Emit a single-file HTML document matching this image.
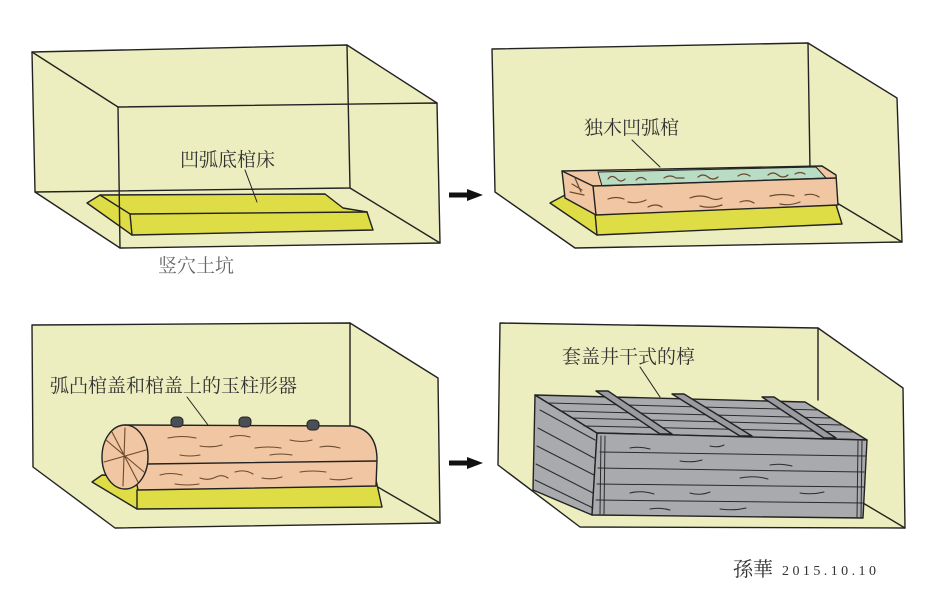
<!DOCTYPE html>
<html><head><meta charset="utf-8"><style>
html,body{margin:0;padding:0;background:#fff;}
svg{display:block;}
text{font-family:"Liberation Serif","Noto Serif CJK SC","Noto Sans CJK SC",serif;}
</style></head><body>
<svg width="925" height="605" viewBox="0 0 925 605" xmlns="http://www.w3.org/2000/svg">
<rect width="925" height="605" fill="#fff"/>
<g stroke="#222" stroke-width="1.4" stroke-linejoin="round" stroke-linecap="round">

<!-- Panel 1 -->
<polygon points="32,52 347,45 437,103 440,243 120,248 35,192" fill="#eceebf" stroke="none"/>
<polygon points="87,203 100,195 325,194 343,208 367,212 373,230 132,235" fill="#dedd45"/>
<polyline points="100,195 130,214 367,212" fill="none"/>
<line x1="130" y1="214" x2="132" y2="235"/>
<g fill="none">
<polygon points="32,52 347,45 350,188 35,192"/>
<polygon points="118,107 437,103 440,243 120,248"/>
<line x1="32" y1="52" x2="118" y2="107"/>
<line x1="347" y1="45" x2="437" y2="103"/>
<line x1="35" y1="192" x2="120" y2="248"/>
<line x1="350" y1="188" x2="440" y2="243"/>
<line x1="245" y1="170" x2="257" y2="202" stroke-width="1"/>
</g>

<!-- Panel 2 -->
<polygon points="492,49 808,43 897,98 902,242 575,248 495,192" fill="#eceebf" stroke="none"/>
<g fill="none">
<polyline points="495,192 492,49 808,43 897,98 902,242 575,248 495,192"/>
<line x1="808" y1="43" x2="810" y2="170"/>
<line x1="812" y1="188" x2="902" y2="242"/>
</g>
<polygon points="550,203 565,195 833,195 842,224 597,235" fill="#dedd45"/>
<line x1="595" y1="213" x2="597" y2="235"/>
<polygon points="562,171 822,166 836,175 838,205 596,215 565,198" fill="#f0c7a2"/>
<polygon points="598,172 816,167 826,178 602,186" fill="#b9dcc4" stroke-width="1"/>
<polyline points="562,171 593,186 836,178" fill="none"/>
<line x1="593" y1="186" x2="596" y2="215"/>
<g fill="none" stroke="#6b4a2e" stroke-width="1.2">
<path d="M608,199 q8,-3 16,0 M628,202 q10,2 18,-2 M648,207 q8,-4 14,0 M690,198 q10,-4 20,0 q6,3 12,0 M700,206 q10,3 22,-1 M740,202 q8,-3 14,1 M770,196 q12,-3 24,0 M780,204 q10,2 20,-2 M805,195 q8,-2 14,2"/>
<path d="M572,184 l10,6 M570,192 l14,3 M575,178 l6,14"/>
<path d="M608,179 q4,-5 9,0 q4,4 8,0 M636,180 q5,-5 10,0 M664,178 q6,-4 12,0 l8,0 M698,177 q5,-4 10,0 q5,4 10,0 M738,176 q6,-4 12,0 M768,175 q5,-4 10,0 q5,4 10,0 M795,174 q5,-3 10,0"/>
</g>
<line x1="632" y1="140" x2="660" y2="167" stroke-width="1"/>

<!-- Panel 3 -->
<polygon points="32,325 350,323 438,378 440,523 115,528 33,467" fill="#eceebf" stroke="none"/>
<g fill="none">
<polyline points="33,467 32,325 350,323 438,378 440,523 115,528 33,467"/>
<line x1="350" y1="323" x2="350" y2="426"/>
<line x1="376" y1="486" x2="440" y2="523"/>
</g>
<polygon points="92,482 102,475 376,480 382,507 137,509" fill="#dedd45"/>
<line x1="137" y1="490" x2="137" y2="509"/>
<path d="M125,425 L352,426 Q377,430 377,460 L376,486 L138,490 Z" fill="#f0c7a2"/>
<line x1="146" y1="464" x2="376" y2="461"/>
<ellipse cx="125" cy="457" rx="23" ry="32" fill="#f0c7a2"/>
<g fill="none" stroke="#6b4a2e" stroke-width="1.1">
<path d="M106,440 L144,472 M104,462 L146,450 M125,428 L123,486 M112,432 L138,482"/>
<path d="M168,438 q14,-3 28,0 M200,446 q12,2 22,-1 M230,437 q10,-3 20,0 M255,448 q14,-2 26,0 M290,440 q12,3 22,0 M320,447 q10,-2 20,1 M180,455 q10,2 20,0 M270,455 q10,-2 22,0"/>
<path d="M160,475 q10,-3 22,0 M200,478 q8,3 16,-1 q6,-3 12,1 M235,472 q10,-3 18,2 M262,478 q10,2 20,-1 M300,472 q12,-2 26,0 M330,479 q10,2 22,-1 M175,484 q12,2 24,0"/>
</g>
<g fill="#4a4f55" stroke="#222" stroke-width="1">
<rect x="171" y="417" width="12" height="10" rx="4"/>
<rect x="239" y="417" width="12" height="10" rx="4"/>
<rect x="307" y="420" width="12" height="10" rx="4"/>
</g>
<line x1="187" y1="397" x2="208" y2="425" stroke-width="1"/>

<!-- Panel 4 -->
<polygon points="500,323 818,328 903,388 905,528 580,527 498,465" fill="#eceebf" stroke="none"/>
<g fill="none">
<polyline points="498,465 500,323 818,328 903,388 905,528 580,527 498,465"/>
<line x1="818" y1="328" x2="818" y2="400"/>
<line x1="863" y1="503" x2="905" y2="528"/>
</g>
<polygon points="535,395 597,433 592,515 533,490" fill="#a9aaae"/>
<polygon points="535,395 805,402 867,440 597,433" fill="#a9aaae"/>
<polygon points="597,433 867,440 863,518 592,515" fill="#a9aaae"/>
<g fill="none" stroke="#2a2a2a" stroke-width="1">
<path d="M548,403 L818,410 M560,411 L830,418 M572,418 L842,425 M584,426 L854,432"/>
<path d="M600,452 L865,456 M598,468 L864,472 M597,484 L864,487 M596,500 L863,503"/>
<path d="M540,410 L595,440 M538,428 L594,458 M537,446 L594,475 M536,464 L593,493 M535,480 L593,508"/>
<path d="M601,436 L600,514 M605,436 L604,514 M858,441 L857,517 M862,441 L861,517"/>
<path d="M630,448 q10,-2 20,1 M680,461 q12,2 22,-1 M710,446 q8,2 14,-1 M740,478 q14,-3 28,1 M630,493 q12,-3 24,1 M690,493 q10,3 20,-1 M770,465 q10,-2 22,1 M800,493 q12,2 24,-1 M650,509 q10,-2 20,1 M720,509 q14,2 26,-1"/>
</g>
<g fill="#9a9ba0">
<polygon points="596,391 608,391 672,434 660,434"/>
<polygon points="672,394 684,394 752,436 740,436"/>
<polygon points="762,397 774,397 836,438 824,438"/>
</g>
<line x1="640" y1="367" x2="660" y2="397" stroke-width="1"/>
</g>

<!-- Arrows -->
<g fill="#111">
<rect x="449" y="192.5" width="20" height="5"/>
<polygon points="467,189 483,195 467,201"/>
<rect x="449" y="460.5" width="20" height="5"/>
<polygon points="467,457 483,463 467,469"/>
</g>

<!-- Labels -->
<g fill="#333" font-size="19">
<text x="180" y="166">凹弧底棺床</text>
<text x="584" y="134">独木凹弧棺</text>
<text x="50" y="392">弧凸棺盖和棺盖上的玉柱形器</text>
<text x="562" y="363">套盖井干式的椁</text>
</g>
<text x="158" y="272" font-size="19" fill="#666">竖穴土坑</text>
<text x="733" y="576" font-size="20" fill="#333">孫華</text>
<text x="782" y="575" font-size="14" fill="#333" font-family="Liberation Sans, sans-serif" textLength="94">2015.10.10</text>
</svg>
</body></html>
